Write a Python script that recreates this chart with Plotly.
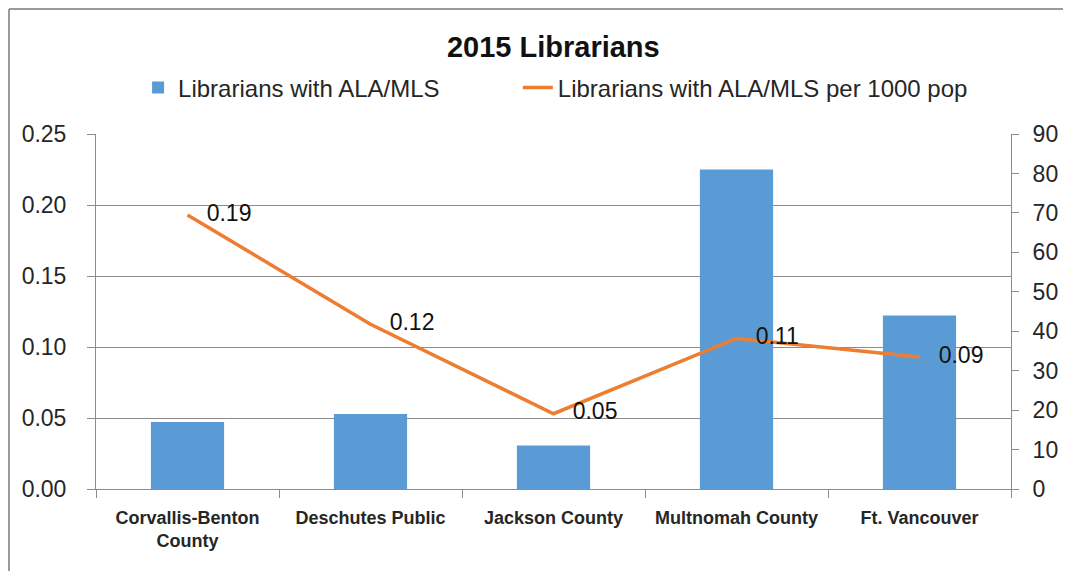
import plotly.graph_objects as go

# ── data ────────────────────────────────────────────────────────────
LIBRARIES = [
    "Corvallis-Benton<br>County",
    "Deschutes Public",
    "Jackson County",
    "Multnomah County",
    "Ft. Vancouver",
]
LIBRARIANS = [17, 19, 11, 81, 44]                       # right axis
PER_1000 = [0.193, 0.116, 0.053, 0.106, 0.093]          # left axis

BAR_BLUE = "#5B9BD5"
LINE_ORANGE = "#ED7D31"
GRID = "#8c8c8c"
FRAME = "#9a9a9a"
TEXT = "#262626"
FONT = "Liberation Sans, Arial, sans-serif"

# the page body keeps its 8px margin, so the figure is 8px smaller than the window
W, H = 1063, 563
L, R, T, B = 88, 60, 126, 82
PW, PH = W - L - R, H - T - B

fig = go.Figure()
fig.add_trace(go.Bar(
    x=LIBRARIES, y=LIBRARIANS,
    name="Librarians with ALA/MLS",
    marker=dict(color=BAR_BLUE, line=dict(width=0)),
    yaxis="y", legend="legend",
))
fig.add_trace(go.Scatter(
    x=LIBRARIES, y=PER_1000,
    name="Librarians with ALA/MLS per 1000 pop",
    mode="lines+text",
    line=dict(color=LINE_ORANGE, width=3.5),
    texttemplate="\u00a0\u00a0\u00a0%{y:.2f}",
    textposition="middle right",
    textfont=dict(size=23, color="#111111", family=FONT),
    yaxis="y2", legend="legend2",
))

legend_common = dict(
    orientation="h", y=1.13, yanchor="middle",
    font=dict(size=24, color=TEXT), bgcolor="rgba(0,0,0,0)",
)

# chart frame: only the top and left edges show in the reference
top_y = 1 + (T - 1) / PH
left_x = -(L - 1) / PW
frame = [
    dict(type="line", xref="paper", yref="paper",
         x0=left_x, x1=1 + R / PW, y0=top_y, y1=top_y,
         line=dict(color=FRAME, width=2)),
    dict(type="line", xref="paper", yref="paper",
         x0=left_x, x1=left_x, y0=top_y, y1=-B / PH,
         line=dict(color=FRAME, width=2)),
]

fig.update_layout(
    width=W, height=H,
    paper_bgcolor="white", plot_bgcolor="white",
    font=dict(family=FONT, color=TEXT),
    margin=dict(l=L, r=R, t=T, b=B),
    bargap=0.6,
    showlegend=True,
    title=dict(
        text="<b>2015 Librarians</b>",
        x=0.513, xanchor="center", y=0.931, yanchor="middle",
        font=dict(size=29, color="#111111", family=FONT),
    ),
    legend=dict(x=0.046, xanchor="left", **legend_common),
    legend2=dict(x=0.461, xanchor="left", **legend_common),
    xaxis=dict(
        showline=True, linecolor=GRID, linewidth=1,
        ticks="outside", tickson="boundaries", ticklen=8, tickcolor=GRID,
        tickfont=dict(size=18, color=TEXT, weight="bold"),
        ticklabelstandoff=12,
        showgrid=False,
    ),
    yaxis=dict(
        side="right", range=[0, 90], dtick=10,
        showline=True, linecolor=GRID, linewidth=1,
        ticks="outside", ticklen=7, tickcolor=GRID,
        tickfont=dict(size=23, color=TEXT),
        ticklabelstandoff=9,
        showgrid=False, zeroline=False,
    ),
    yaxis2=dict(
        overlaying="y", side="left", range=[0, 0.25], dtick=0.05,
        tickformat=".2f",
        showline=True, linecolor=GRID, linewidth=1,
        ticks="outside", ticklen=8, tickcolor=GRID,
        tickfont=dict(size=23, color=TEXT),
        ticklabelstandoff=16,
        showgrid=True, gridcolor=GRID, gridwidth=1, zeroline=False,
    ),
    shapes=frame,
)

fig.write_html("out.html")
